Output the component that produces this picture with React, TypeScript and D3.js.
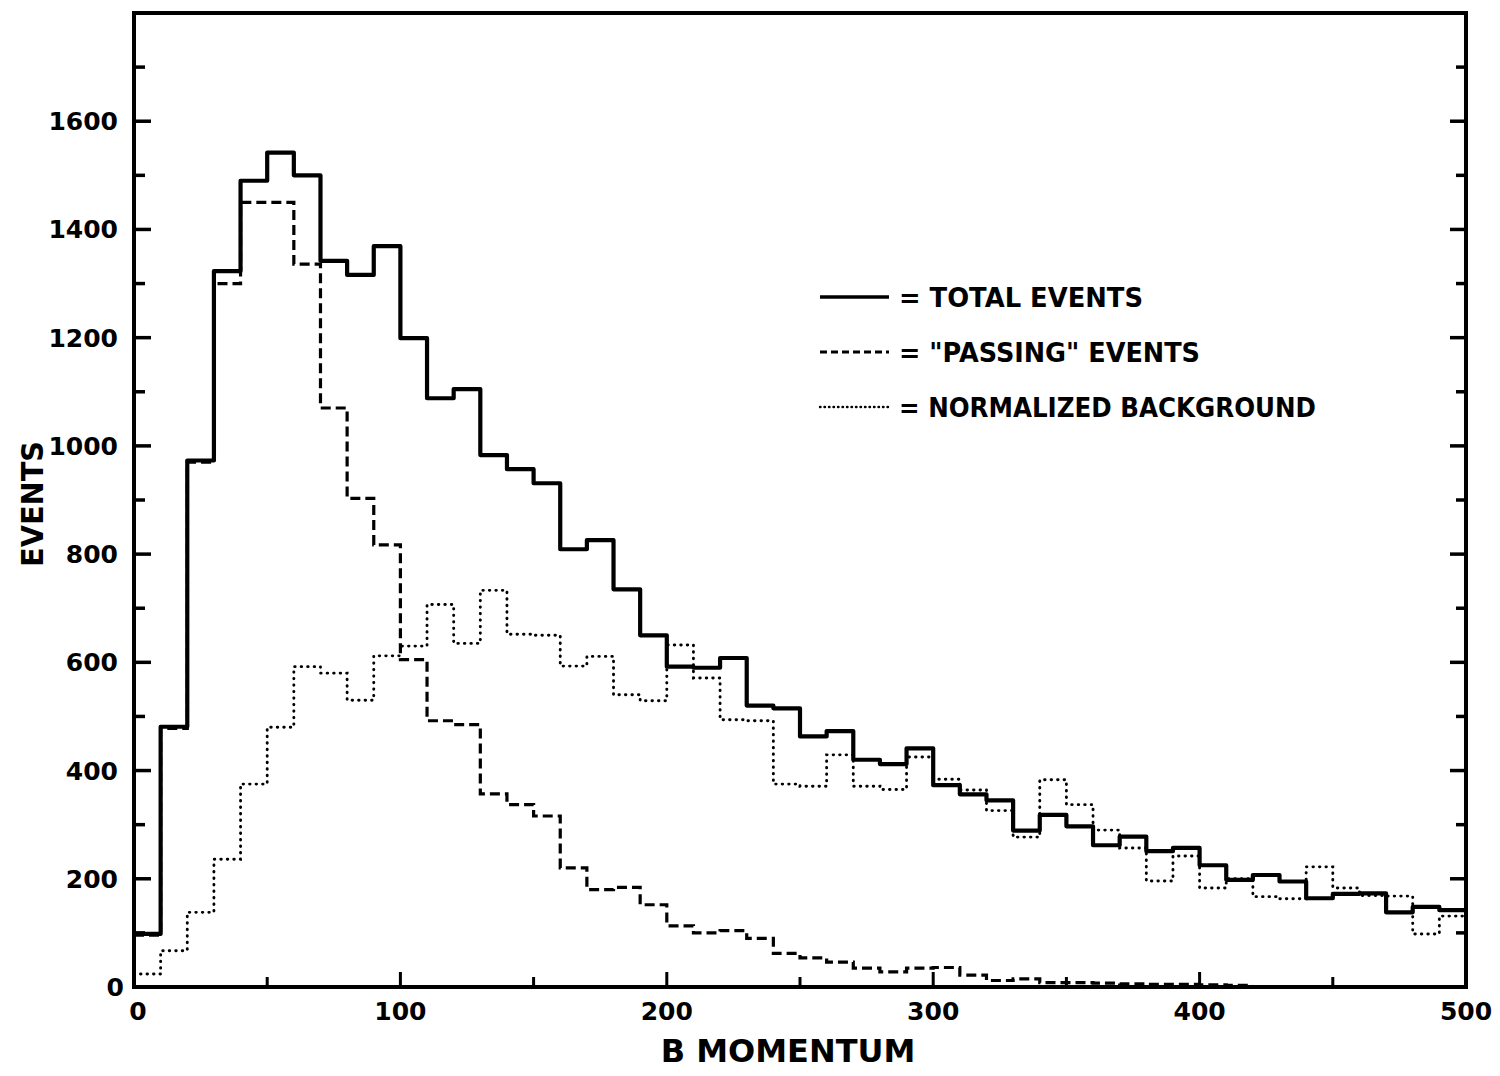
import React from 'react';
import * as d3 from 'd3';

// bin width 10, bins start at 0
const binWidth = 10;

// solid line, 0-500
const totalEvents = [
  98, 481, 973, 1323, 1490, 1542, 1500, 1342, 1316, 1369,
  1199, 1088, 1105, 983, 957, 931, 809, 826, 735, 650,
  592, 590, 608, 520, 515, 463, 473, 420, 412, 441,
  373, 356, 345, 289, 318, 297, 262, 278, 251, 257,
  225, 198, 207, 195, 164, 172, 173, 138, 148, 142,
];

// dashed line, stops at 420
const passingEvents = [
  96, 478, 970, 1300, 1450, 1450, 1336, 1070, 903, 817,
  605, 492, 485, 357, 337, 316, 220, 180, 184, 152,
  113, 100, 104, 90, 62, 54, 46, 35, 28, 35,
  36, 22, 12, 15, 8, 8, 7, 6, 5, 5,
  4, 3,
];

// dotted line, 0-500
const background = [
  24, 67, 138, 236, 375, 480, 592, 580, 530, 612,
  630, 707, 635, 733, 652, 650, 593, 611, 540, 529,
  632, 571, 494, 492, 375, 371, 429, 371, 365, 425,
  384, 364, 326, 277, 383, 337, 290, 257, 196, 242,
  183, 200, 167, 163, 222, 183, 169, 168, 98, 131,
];

const xTickLabels = [0, 100, 200, 300, 400, 500];
const yTickLabels = [0, 200, 400, 600, 800, 1000, 1200, 1400, 1600];

const legendItems = [
  { label: '= TOTAL EVENTS', dash: 'none', width: 3.5, textLen: 244 },
  { label: '= "PASSING" EVENTS', dash: '7 4', width: 3, textLen: 301 },
  { label: '= NORMALIZED BACKGROUND', dash: '0.5 4', width: 2.4, textLen: 417 },
];

const font = '"DejaVu Sans", "Liberation Sans", sans-serif';

export default function App() {
  const left = 134, right = 1466, top = 13, bottom = 987;

  const x = d3.scaleLinear().domain([0, 500]).range([left, right]);
  const y = d3.scaleLinear().domain([0, 1800]).range([bottom, top]);

  const stepPath = (values: number[]) => {
    const pts: [number, number][] = values.map((v, i) => [x(i * binWidth), y(v)]);
    pts.push([x(values.length * binWidth), y(values[values.length - 1])]);
    return d3.line().curve(d3.curveStepAfter)(pts) || '';
  };

  const yMinor = d3.range(0, 1801, 100);
  const xMinor = d3.range(0, 501, 50);

  return (
    <svg width={1500} height={1076} style={{ position: 'absolute', left: 0, top: 0, background: '#fff' }}>
      {/* histograms */}
      <path d={stepPath(background)} fill="none" stroke="#000" strokeWidth={2.9}
        strokeDasharray="0.5 6" strokeLinecap="round" />
      <path d={stepPath(passingEvents)} fill="none" stroke="#000" strokeWidth={3.2}
        strokeDasharray="10 5" />
      <path d={stepPath(totalEvents)} fill="none" stroke="#000" strokeWidth={4.2} strokeLinejoin="round" />

      {/* frame */}
      <rect x={left} y={top} width={right - left} height={bottom - top} fill="none" stroke="#000" strokeWidth={4} />

      {/* y ticks, both sides, pointing in */}
      {yMinor.map(v => {
        const len = v % 200 === 0 ? 17 : 11;
        return (
          <g key={'yt' + v}>
            <line x1={left} x2={left + len} y1={y(v)} y2={y(v)} stroke="#000" strokeWidth={3.5} />
            <line x1={right} x2={right - len + 1} y1={y(v)} y2={y(v)} stroke="#000" strokeWidth={3.5} />
          </g>
        );
      })}
      {/* x ticks */}
      {xMinor.map(v => {
        const len = v % 100 === 0 ? 15 : 10;
        return <line key={'xt' + v} x1={x(v)} x2={x(v)} y1={bottom} y2={bottom - len} stroke="#000" strokeWidth={3} />;
      })}

      {/* tick labels */}
      {yTickLabels.map(v => (
        <text key={'yl' + v} x={v === 0 ? 124 : 118} y={y(v) + 9} textAnchor="end"
          fontFamily={font} fontWeight="bold" fontSize={25}>{v}</text>
      ))}
      {xTickLabels.map(v => (
        <text key={'xl' + v} x={x(v) + (v === 0 ? 4 : 0)} y={1020} textAnchor="middle"
          fontFamily={font} fontWeight="bold" fontSize={25}>{v}</text>
      ))}

      {/* axis titles */}
      <text x={788} y={1062} textAnchor="middle" fontFamily={font} fontWeight="bold" fontSize={32}>B MOMENTUM</text>
      <text transform="translate(43,504) rotate(-90)" textAnchor="middle" fontFamily={font} fontWeight="bold"
        fontSize={31} textLength={126} lengthAdjust="spacingAndGlyphs">EVENTS</text>

      {/* legend */}
      {legendItems.map((d, i) => {
        const ly = 297 + i * 55;
        return (
          <g key={d.label}>
            <line x1={820} x2={889} y1={ly} y2={ly} stroke="#000" strokeWidth={d.width}
              strokeDasharray={d.dash} strokeLinecap={i === 2 ? 'round' : 'butt'} />
            <text x={899} y={ly + 10} fontFamily={font} fontWeight="bold" fontSize={26}
              textLength={d.textLen} lengthAdjust="spacingAndGlyphs">{d.label}</text>
          </g>
        );
      })}
    </svg>
  );
}
